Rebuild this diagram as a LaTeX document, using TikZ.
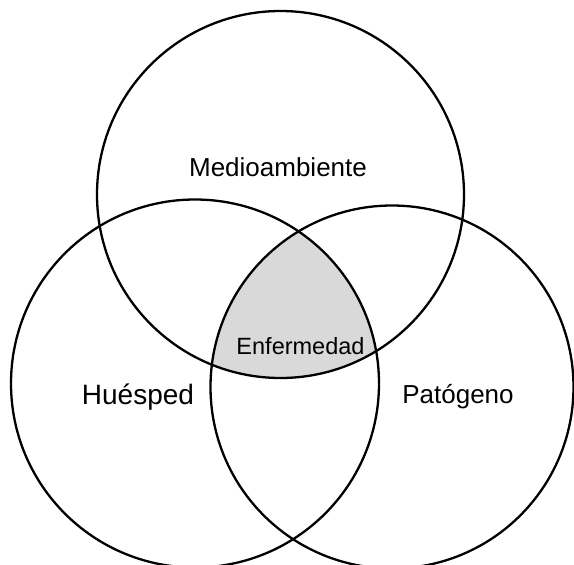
\documentclass[tikz,border=0pt]{standalone}
\usepackage{fontspec}
\setmainfont{Liberation Sans}
\begin{document}
\begin{tikzpicture}[x=1pt,y=-1pt,
  ring/.style={draw=black,line width=2.3pt},
  lbl/.style={inner sep=0pt,anchor=center}]
\useasboundingbox (0,0) rectangle (574,565);
\coordinate (cT) at (280.5,194.5);
\coordinate (cL) at (195,383.5);
\coordinate (cR) at (392,387);
\begin{scope}
  \clip (cT) circle[radius=183.5pt];
  \clip (cL) circle[radius=184pt];
  \fill[gray!30] (cR) circle[radius=181.5pt];
\end{scope}
\draw[ring] (cT) circle[radius=183.5pt];
\draw[ring] (cL) circle[radius=184pt];
\draw[ring] (cR) circle[radius=181.5pt];
\node[lbl] (med) at (278,167) {\fontsize{26}{30}\selectfont Medioambiente};
\node[lbl] (hue) at (138,397) {\fontsize{28}{32}\selectfont Huésped};
\node[lbl] (pat) at (458,397) {\fontsize{26}{30}\selectfont Patógeno};
\node[lbl] (enf) at (300.5,346) {\fontsize{23.5}{28}\selectfont Enfermedad};
\end{tikzpicture}
\end{document}
